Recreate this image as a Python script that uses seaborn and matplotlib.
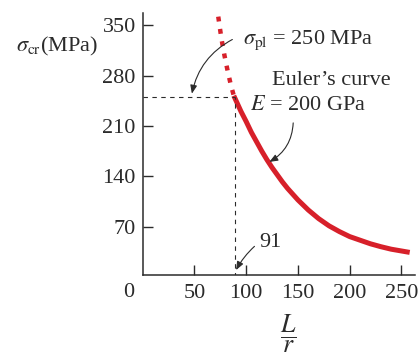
import matplotlib
matplotlib.use('Agg')
import pandas as pd
import seaborn as sns
import matplotlib.pyplot as plt

# values
dot_x = [73, 76, 79, 82, 85, 88]
dot_y = [362, 332, 308, 287, 268, 252]
euler_x = [88, 95, 100, 105, 110, 115, 120, 125, 130, 135, 140, 145, 150, 155,
           160, 170, 180, 190, 200, 210, 220, 230, 240, 250, 258]
euler_y = [252, 230, 216, 201, 188, 175, 163, 152, 142, 132, 123, 115, 107, 100,
           93, 81, 71, 63, 56, 51, 46, 42, 38.5, 36, 34]
x_ticks = [50, 100, 150, 200, 250]
y_ticks = [70, 140, 210, 280, 350]
sigma_pl = 250
slender_pl = 89

sns.set_style('ticks')
plt.rcParams['font.family'] = ['Liberation Serif', 'DejaVu Serif']
plt.rcParams['mathtext.fontset'] = 'stix'

red = '#d7202a'
ink = '#2b2b2b'
fs = 16

fig = plt.figure(figsize=(4.2, 3.56), dpi=100)
ax = fig.add_axes([0.3398, 0.2284, 0.648, 0.735])

dots = pd.DataFrame({'x': dot_x, 'y': dot_y})
curve = pd.DataFrame({'x': euler_x, 'y': euler_y})
sns.lineplot(data=dots, x='x', y='y', ax=ax, color=red, lw=3.2,
             linestyle=(0, (1.1, 1.7)), estimator=None, sort=False)
sns.lineplot(data=curve, x='x', y='y', ax=ax, color=red, lw=3.6,
             estimator=None, sort=False, solid_capstyle='butt')

# dashed guides
ax.plot([0, slender_pl], [sigma_pl, sigma_pl], ls=(0, (4, 4)), color=ink, lw=0.8)
ax.plot([slender_pl, slender_pl], [0, sigma_pl], ls=(0, (4, 4)), color=ink, lw=0.8)

ax.set_xlim(0, 263)
ax.set_ylim(3, 367)
ax.set_xticks(x_ticks)
ax.set_yticks(y_ticks)
ax.set_xticklabels([str(v) for v in x_ticks])
ax.set_yticklabels([str(v) for v in y_ticks])
ax.tick_params(direction='in', length=7, width=1.0, color=ink,
               labelsize=fs, labelcolor=ink)
ax.tick_params(axis='x', pad=7)
ax.tick_params(axis='y', pad=5)
ax.set_xlabel('')
ax.set_ylabel('')
for s in ['top', 'right']:
    ax.spines[s].set_visible(False)
for s in ['left', 'bottom']:
    ax.spines[s].set_color(ink)
    ax.spines[s].set_linewidth(1.1)

ax.text(-14, -22, '0', fontsize=fs, color=ink, ha='center', va='center', clip_on=False)
ax.text(-122, 321, r'$\sigma_{\mathrm{cr}}$(MPa)', fontsize=fs, color=ink,
        ha='left', va='center', clip_on=False)
ax.text(140.5, -79, r'$\dfrac{L}{r}$', fontsize=18.5, color=ink,
        ha='center', va='center', clip_on=False)

ax.text(97, 323.5, r'$\sigma_{\mathrm{pl}}$ = 250 MPa', fontsize=fs, color=ink,
        ha='left', va='baseline')
ax.text(124.5, 267, 'Euler\u2019s curve', fontsize=fs, color=ink, ha='left', va='baseline')
ax.text(103.5, 232, r'$E$ = 200 GPa', fontsize=fs, color=ink, ha='left', va='baseline')
ax.text(112.5, 42, '91', fontsize=fs, color=ink, ha='left', va='baseline')

arrow = dict(arrowstyle='-|>,head_length=0.5,head_width=0.2', color=ink, lw=0.8)
ax.annotate('', xy=(47, 251), xytext=(89, 332),
            arrowprops=dict(connectionstyle='arc3,rad=0.25', **arrow))
ax.annotate('', xy=(120, 158), xytext=(145.5, 218),
            arrowprops=dict(connectionstyle='arc3,rad=-0.3', **arrow))
ax.annotate('', xy=(89, 6), xytext=(110, 45),
            arrowprops=dict(connectionstyle='arc3,rad=0.1', **arrow), annotation_clip=False)

fig.savefig('out.png', dpi=100)
